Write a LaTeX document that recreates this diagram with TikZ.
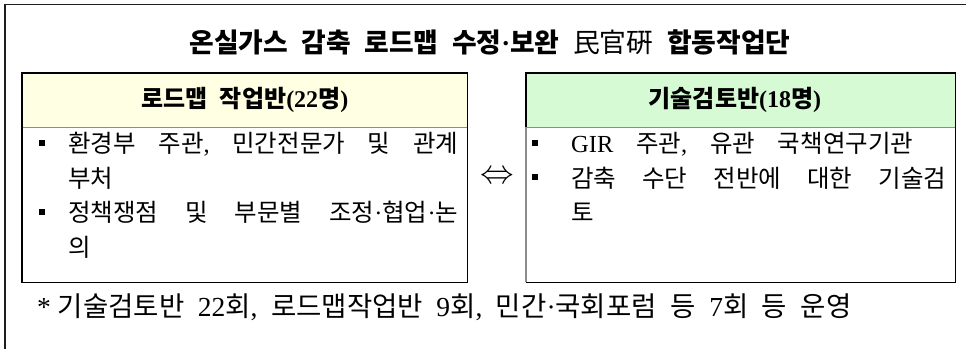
\documentclass[tikz,border=0pt]{standalone}
\usepackage{fontspec}
\setmainfont{Liberation Serif}
\newfontfamily\kr{Noto Sans CJK KR}[WordSpace=2.2]
\newcommand\lat[1]{{\rmfamily #1}}
\definecolor{hdryellow}{RGB}{255,255,228}
\definecolor{hdrgreen}{RGB}{214,250,212}
\definecolor{frameclr}{RGB}{30,30,30}
\begin{document}
\begin{tikzpicture}[x=1pt,y=-1pt,
  frameline/.style={line width=1.4pt,draw=frameclr},
  boxline/.style={line width=1.1pt,draw=black},
  grayline/.style={line width=1.1pt,draw=black!45},
  hdrbox/.style={rectangle,inner sep=0pt,anchor=north west,minimum height=54pt},
  bodybox/.style={rectangle,inner sep=0pt,anchor=north west,minimum height=155pt},
  txt/.style={inner sep=0pt,anchor=base west,font=\fontsize{24.5}{29}\selectfont\kr},
  hdrtxt/.style={inner sep=0pt,anchor=base,font=\fontsize{24}{29}\selectfont\bfseries\kr},
  bul/.style={rectangle,fill=black,inner sep=0pt,minimum size=6pt,draw=none}]
\useasboundingbox (0,0) rectangle (966,349);
\fill[white] (0,0) rectangle (966,349);
% outer frame
\coordinate (fbl) at (5,349);
\coordinate (ftl) at (5,4.5);
\coordinate (ftr) at (966,4.5);
\draw[frameline] (fbl) -- (ftl) -- (ftr);
% title
\node[inner sep=0pt,anchor=base,font=\fontsize{26.8}{31}\selectfont\bfseries\kr] (title) at (490,52)
  {온실가스 감축 로드맵 수정\lat{·}보완 {\mdseries 民官硏} 합동작업단};
% left box
\node[hdrbox,fill=hdryellow,minimum width=445pt] (lhead) at (22,73) {};
\node[bodybox,minimum width=445pt] (lbody) at (22,127) {};
\draw[grayline] (lhead.south west) -- (lhead.south east);
\draw[boxline] (lhead.south west) |- (lhead.north east) -- (lbody.south east) -| (lbody.north west);
\node[hdrtxt] (lht) at (245,107) {로드맵 작업반\lat{(22}명\lat{)}};
% right box
\node[hdrbox,fill=hdrgreen,minimum width=429pt] (rhead) at (526,73) {};
\node[bodybox,minimum width=429pt] (rbody) at (526,127) {};
\draw[grayline] (rhead.south west) -- (rhead.south east);
\draw[boxline] (rhead.south west) |- (rhead.north east) -- (rbody.south east) -| (rbody.south west);
\draw[grayline] (rbody.south west) -- (rbody.north west);
\node[hdrtxt] (rht) at (735,107) {기술검토반\lat{(18}명\lat{)}};
% left bullets and text
\node[bul] (lb1) at (41.5,143) {};
\node[bul] (lb2) at (41.5,212) {};
\node[txt] (l1) at (68,152) {\hbox to 390pt{환경부\hfill 주관\lat{,}\hfill 민간전문가\hfill 및\hfill 관계}};
\node[txt] (l2) at (68,187) {부처};
\node[txt] (l3) at (68,221) {\hbox to 390pt{정책쟁점\hfill 및\hfill 부문별\hfill 조정\lat{·}협업\lat{·}논}};
\node[txt] (l4) at (68,256) {의};
% right bullets and text
\node[bul] (rb1) at (535,143) {};
\node[bul] (rb2) at (535,177) {};
\node[txt] (r1) at (571,152) {\hbox to 342pt{\lat{GIR}\hfill 주관\lat{,}\hfill 유관\hfill 국책연구기관}};
\node[txt] (r2) at (571,187) {\hbox to 375pt{감축\hfill 수단\hfill 전반에\hfill 대한\hfill 기술검}};
\node[txt] (r3) at (571,221) {토};
% double arrow
\node[inner sep=0pt,font=\fontsize{26}{30}\selectfont] (arr) at (497,177) {\scalebox{1.35}{$\Leftrightarrow$}};
% footnote
\node[inner sep=0pt,anchor=base west,font=\fontsize{27.5}{32}\selectfont\kr] (note) at (37,316)
  {\lat{* }기술검토반 \lat{22}회\lat{,} 로드맵작업반 \lat{9}회\lat{,} 민간\lat{·}국회포럼 등 \lat{7}회 등 운영};
\end{tikzpicture}
\end{document}
